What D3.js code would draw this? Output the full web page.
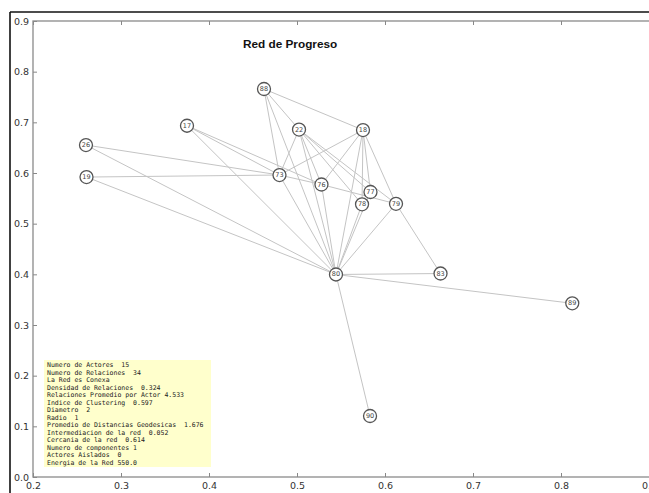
<!DOCTYPE html>
<html>
<head>
<meta charset="utf-8">
<script src="https://cdn.jsdelivr.net/npm/d3@7"></script>
<style>
  html, body { margin: 0; padding: 0; background: #fff; }
  svg { display: block; }
</style>
</head>
<body>
<svg id="chart" width="649" height="493"></svg>
<script>
// Actors of the network and their layout coordinates
const nodeIds = ["88", "17", "22", "18", "26", "19", "73", "76", "77", "78", "79", "80", "83", "89", "90"];
const nodeX   = [0.4625, 0.375, 0.5023, 0.575, 0.2602, 0.2608, 0.4801, 0.5278, 0.5835, 0.5739, 0.6125, 0.5443, 0.6631, 0.8128, 0.583];
const nodeY   = [0.7658, 0.6933, 0.6858, 0.6848, 0.6552, 0.592, 0.596, 0.5773, 0.5625, 0.5382, 0.5392, 0.3997, 0.4016, 0.3428, 0.1204];

// Relations (undirected)
const edgeFrom = ["80","80","80","80","80","80","80","80","80","80","80","80","80","80",
                  "26","17","17","73","19",
                  "88","88","88",
                  "22","22","22","22","22",
                  "18","18","18","18","18",
                  "79","76"];
const edgeTo   = ["88","17","22","18","26","19","73","76","77","78","79","83","89","90",
                  "73","73","76","76","73",
                  "18","22","73",
                  "73","76","77","78","79",
                  "73","76","77","78","79",
                  "83","79"];

// Network statistics shown in the info box
const statLines = [
  "Numero de Actores  15",
  "Numero de Relaciones  34",
  "La Red es Conexa",
  "Densidad de Relaciones  0.324",
  "Relaciones Promedio por Actor 4.533",
  "Indice de Clustering  0.597",
  "Diametro  2",
  "Radio  1",
  "Promedio de Distancias Geodesicas  1.676",
  "Intermediacion de la red  0.052",
  "Cercania de la red  0.614",
  "Numero de componentes 1",
  "Actores Aislados  0",
  "Energia de la Red 550.0"
];

const xTicks = [0.2, 0.3, 0.4, 0.5, 0.6, 0.7, 0.8, 0.9];
const yTicks = [0.0, 0.1, 0.2, 0.3, 0.4, 0.5, 0.6, 0.7, 0.8, 0.9];
const chartTitle = "Red de Progreso";

const svg = d3.select("#chart");
const W = 649, H = 493;
const plotL = 33, plotT = 21, plotR = 649, plotB = 477;

const x = d3.scaleLinear().domain([0.2, 0.9]).range([plotL, plotR]);
const y = d3.scaleLinear().domain([0.0, 0.9]).range([plotB, plotT]);

// Figure frame
svg.append("line").attr("x1", 10).attr("y1", 12).attr("x2", 10).attr("y2", H)
  .attr("stroke", "#111").attr("stroke-width", 1.6);
svg.append("line").attr("x1", 10).attr("y1", 12).attr("x2", W).attr("y2", 12)
  .attr("stroke", "#111").attr("stroke-width", 1.6);

// Axes with inward ticks
const fmt = d3.format(".1f");
const axisStyle = g => {
  g.select(".domain").remove();
  g.selectAll(".tick line").attr("stroke", "#888");
  g.selectAll(".tick text").attr("fill", "#333")
    .attr("font-family", "DejaVu Sans, sans-serif").attr("font-size", 9.5);
};
svg.append("g").attr("transform", `translate(0,${plotB})`)
  .call(d3.axisBottom(x).tickValues(xTicks).tickFormat(fmt).tickSizeInner(-4).tickSizeOuter(0).tickPadding(5))
  .call(axisStyle);
svg.append("g").attr("transform", `translate(0,${plotT})`)
  .call(d3.axisTop(x).tickValues(xTicks).tickFormat("").tickSizeInner(-4).tickSizeOuter(0))
  .call(axisStyle);
svg.append("g").attr("transform", `translate(${plotL},0)`)
  .call(d3.axisLeft(y).tickValues(yTicks).tickFormat(fmt).tickSizeInner(-4).tickSizeOuter(0).tickPadding(4))
  .call(axisStyle);

// Plot spines
svg.append("rect").attr("x", plotL).attr("y", plotT)
  .attr("width", plotR - plotL + 2).attr("height", plotB - plotT)
  .attr("fill", "none").attr("stroke", "#8a8a8a").attr("stroke-width", 1.3);

// Info box
const boxX = 44, boxY = 360, lineH = 7.5;
svg.append("rect").attr("x", boxX).attr("y", boxY)
  .attr("width", 167).attr("height", 107)
  .attr("fill", "#ffffcc");
svg.append("g").selectAll("text").data(statLines).join("text")
  .attr("x", boxX + 3)
  .attr("y", (d, i) => boxY + 5 + i * lineH)
  .attr("dominant-baseline", "central")
  .attr("font-family", "DejaVu Sans Mono, monospace")
  .attr("font-size", 6.5)
  .attr("fill", "#222")
  .style("white-space", "pre")
  .text(d => d);

// Title
svg.append("text")
  .attr("x", x(0.4385)).attr("y", 48)
  .attr("font-family", "Liberation Sans, Arial, sans-serif")
  .attr("font-weight", "bold").attr("font-size", 11.8)
  .attr("fill", "#111")
  .text(chartTitle);

// Network
const nodes = nodeIds.map((id, i) => ({ id, x: nodeX[i], y: nodeY[i] }));
const byId = new Map(nodes.map(n => [n.id, n]));
const edges = edgeFrom.map((s, i) => ({ s: byId.get(s), t: byId.get(edgeTo[i]) }));

svg.append("g").selectAll("line").data(edges).join("line")
  .attr("x1", d => x(d.s.x)).attr("y1", d => y(d.s.y))
  .attr("x2", d => x(d.t.x)).attr("y2", d => y(d.t.y))
  .attr("stroke", "#c4c4c4").attr("stroke-width", 1);

const ng = svg.append("g").selectAll("g").data(nodes).join("g")
  .attr("transform", d => `translate(${x(d.x)},${y(d.y)})`);
ng.append("circle").attr("r", 6.5)
  .attr("fill", "#fff").attr("stroke", "#555").attr("stroke-width", 1.3);
ng.append("text")
  .attr("text-anchor", "middle").attr("dominant-baseline", "central")
  .attr("font-family", "DejaVu Sans, sans-serif").attr("font-size", 6.5)
  .attr("fill", "#444")
  .text(d => d.id);
</script>
</body>
</html>
